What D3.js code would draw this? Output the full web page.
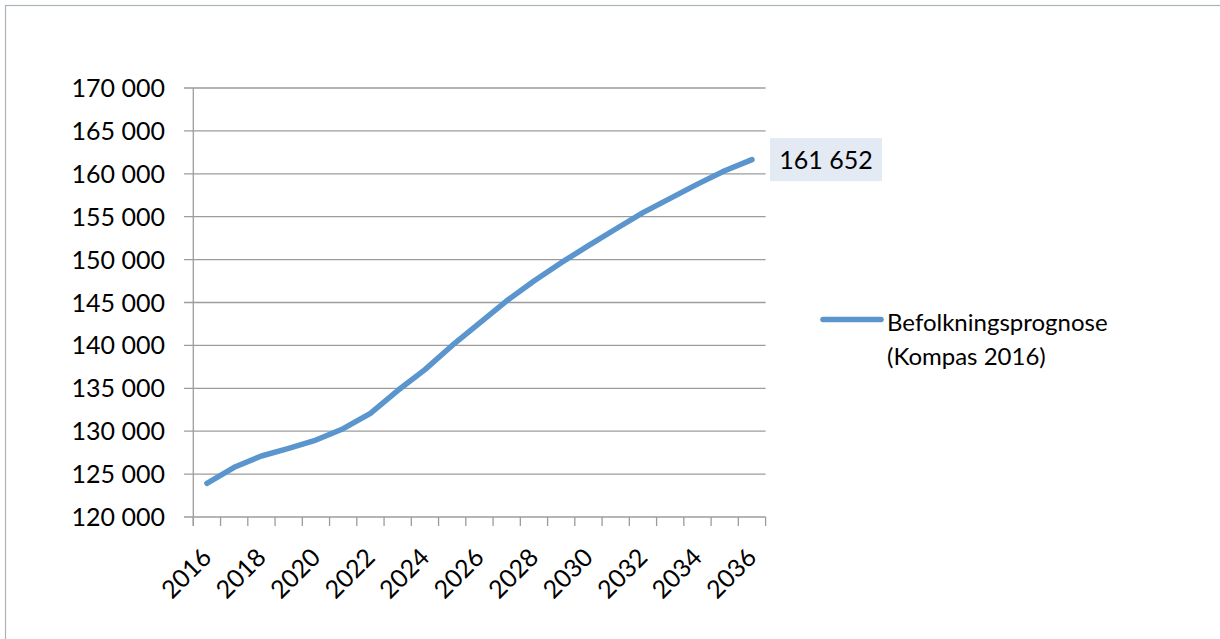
<!DOCTYPE html>
<html>
<head>
<meta charset="utf-8">
<script src="https://cdn.jsdelivr.net/npm/d3@7"></script>
<style>
  body { margin: 0; background: #fff; }
  text { font-family: Lato, "Open Sans", sans-serif; fill: #000; }
</style>
</head>
<body>
<div id="chart"></div>
<script>
// population forecast (last value is labelled)
const years = d3.range(2016, 2037);
const population = [123930, 125790, 127110, 128010, 128970, 130290, 132090, 134740,
  137180, 139990, 142610, 145200, 147500, 149640, 151620, 153570, 155470, 157130,
  158800, 160360, 161652];
const yTicks = [120000, 125000, 130000, 135000, 140000, 145000, 150000, 155000, 160000, 165000, 170000];
const seriesName = ["Befolkningsprognose", "(Kompas 2016)"];

const width = 1220, height = 639;
const lineColor = "#5b95cd", gridColor = "#9c9c9c";

const locale = d3.formatLocale({ decimal: ",", thousands: " ", grouping: [3], currency: ["", ""] });
const fmt = locale.format(",d");

const svg = d3.select("#chart").append("svg")
  .attr("width", width).attr("height", height);

// outer chart border (runs off right/bottom)
svg.append("rect")
  .attr("x", 5.5).attr("y", 5.5)
  .attr("width", width + 10).attr("height", height + 10)
  .attr("fill", "none").attr("stroke", "#aab2ba").attr("stroke-width", 1.2);

const x = d3.scaleBand().domain(years).range([193.3, 765.6]);
const y = d3.scaleLinear().domain([120000, 170000]).range([517, 88]);

// gridlines
svg.append("g").selectAll("line").data(yTicks).join("line")
  .attr("x1", 184).attr("x2", x.range()[1])
  .attr("y1", d => y(d)).attr("y2", d => y(d))
  .attr("stroke", gridColor).attr("stroke-width", 1.3);

// y axis line
svg.append("line")
  .attr("x1", x.range()[0]).attr("x2", x.range()[0])
  .attr("y1", y(170000)).attr("y2", y(120000) + 9)
  .attr("stroke", gridColor).attr("stroke-width", 1.3);

// x tick marks at band edges
const edges = years.map(d => x(d)).concat([x.range()[1]]);
svg.append("g").selectAll("line").data(edges).join("line")
  .attr("x1", d => d).attr("x2", d => d)
  .attr("y1", y(120000)).attr("y2", y(120000) + 9)
  .attr("stroke", gridColor).attr("stroke-width", 1.3);

// y labels
svg.append("g").selectAll("text").data(yTicks).join("text")
  .attr("x", 165).attr("y", d => y(d)).attr("dy", "0.36em")
  .attr("text-anchor", "end").attr("font-size", 25)
  .text(d => fmt(d));

// x labels, every 2nd year, rotated
const cx = d => x(d) + x.bandwidth() / 2;
svg.append("g").selectAll("text").data(years.filter((d, i) => i % 2 === 0)).join("text")
  .attr("transform", d => `translate(${cx(d) + 6},${y(120000) + 42}) rotate(-45)`)
  .attr("text-anchor", "end").attr("font-size", 25)
  .text(d => d);

// series line
const line = d3.line().x((d, i) => cx(years[i])).y(d => y(d));
svg.append("path").datum(population)
  .attr("d", line)
  .attr("fill", "none").attr("stroke", lineColor)
  .attr("stroke-width", 5.5).attr("stroke-linecap", "round").attr("stroke-linejoin", "round");

// data label on the last point
const lastX = cx(years[years.length - 1]), lastY = y(population[population.length - 1]);
const lbl = svg.append("g").attr("transform", `translate(${lastX + 18},${lastY})`);
lbl.append("rect").attr("x", 0).attr("y", -21.5).attr("width", 112).attr("height", 43)
  .attr("fill", "#e3eaf4");
lbl.append("text").attr("x", 56).attr("y", 0).attr("dy", "0.36em")
  .attr("text-anchor", "middle").attr("font-size", 25)
  .text(fmt(population[population.length - 1]));

// legend
const lg = svg.append("g").attr("transform", "translate(823,319.5)");
lg.append("line").attr("x1", 0).attr("x2", 58).attr("y1", 0).attr("y2", 0)
  .attr("stroke", lineColor).attr("stroke-width", 5.5).attr("stroke-linecap", "round");
lg.selectAll("text").data(seriesName).join("text")
  .attr("x", 64).attr("y", (d, i) => 3 + i * 34).attr("dy", "0.36em")
  .attr("font-size", 24)
  .text(d => d);
</script>
</body>
</html>
